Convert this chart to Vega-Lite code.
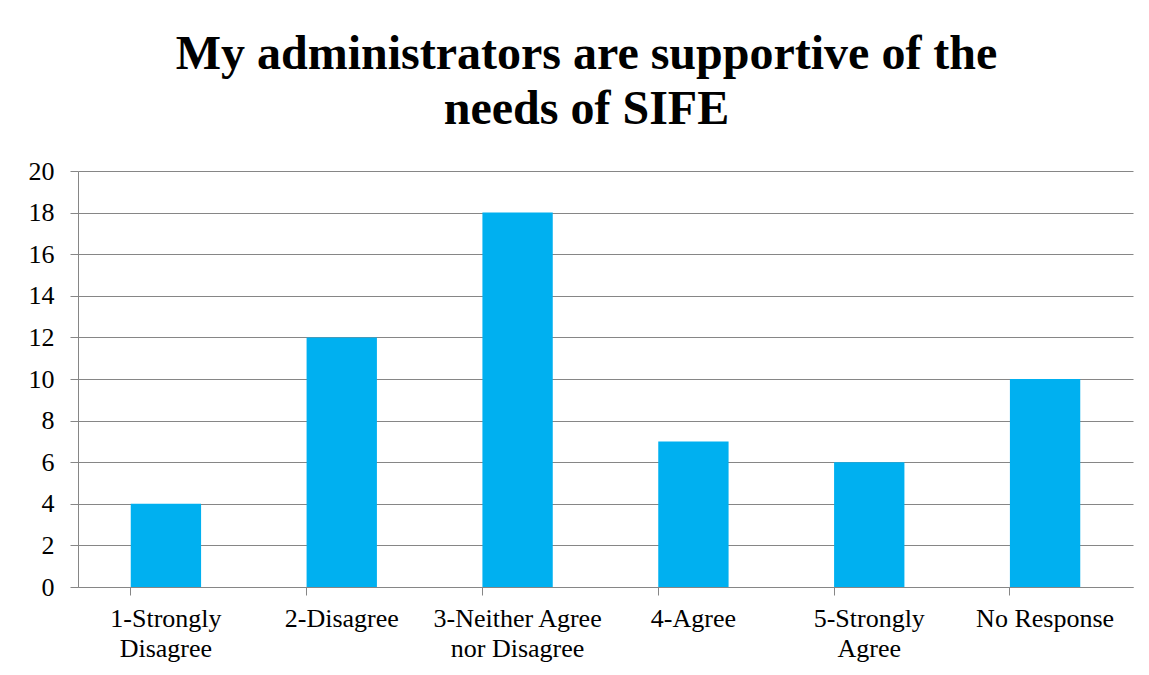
{
  "$schema": "https://vega.github.io/schema/vega-lite/v6.json",
  "autosize": "none",
  "width": 1055,
  "height": 416,
  "padding": {"left": 78, "top": 171, "right": 16, "bottom": 88},
  "background": "white",
  "title": {
    "text": ["My administrators are supportive of the", "needs of SIFE"],
    "font": "Liberation Serif",
    "fontSize": 48,
    "fontWeight": "bold",
    "color": "black",
    "lineHeight": 55,
    "anchor": "middle",
    "dx": -19,
    "offset": 24
  },
  "data": {
    "values": [
      {"response": "1-Strongly Disagree", "count": 4},
      {"response": "2-Disagree", "count": 12},
      {"response": "3-Neither Agree nor Disagree", "count": 18},
      {"response": "4-Agree", "count": 7},
      {"response": "5-Strongly Agree", "count": 6},
      {"response": "No Response", "count": 10}
    ]
  },
  "mark": {"type": "bar", "color": "#00B0F0"},
  "encoding": {
    "x": {
      "field": "response",
      "type": "nominal",
      "sort": null,
      "title": null,
      "scale": {"paddingInner": 0.6, "paddingOuter": 0.3},
      "axis": {
        "labelAngle": 0,
        "labelFont": "Liberation Serif",
        "labelFontSize": 26,
        "labelColor": "black",
        "labelLineHeight": 30,
        "labelPadding": 10,
        "labelExpr": "datum.value == '1-Strongly Disagree' ? ['1-Strongly', 'Disagree'] : datum.value == '3-Neither Agree nor Disagree' ? ['3-Neither Agree', 'nor Disagree'] : datum.value == '5-Strongly Agree' ? ['5-Strongly', 'Agree'] : datum.value",
        "bandPosition": 0,
        "tickSize": 8,
        "tickColor": "#868686",
        "domainColor": "#868686",
        "labelBound": false,
        "labelOverlap": false
      }
    },
    "y": {
      "field": "count",
      "type": "quantitative",
      "title": null,
      "scale": {"domain": [0, 20], "nice": false},
      "axis": {
        "values": [0, 2, 4, 6, 8, 10, 12, 14, 16, 18, 20],
        "labelFont": "Liberation Serif",
        "labelFontSize": 26,
        "labelColor": "black",
        "labelPadding": 16,
        "tickSize": 8,
        "tickColor": "#868686",
        "domainColor": "#868686",
        "gridColor": "#868686",
        "gridOpacity": 1
      }
    }
  },
  "config": {
    "view": {"stroke": null},
    "axis": {"grid": true},
    "axisX": {"grid": false}
  }
}
